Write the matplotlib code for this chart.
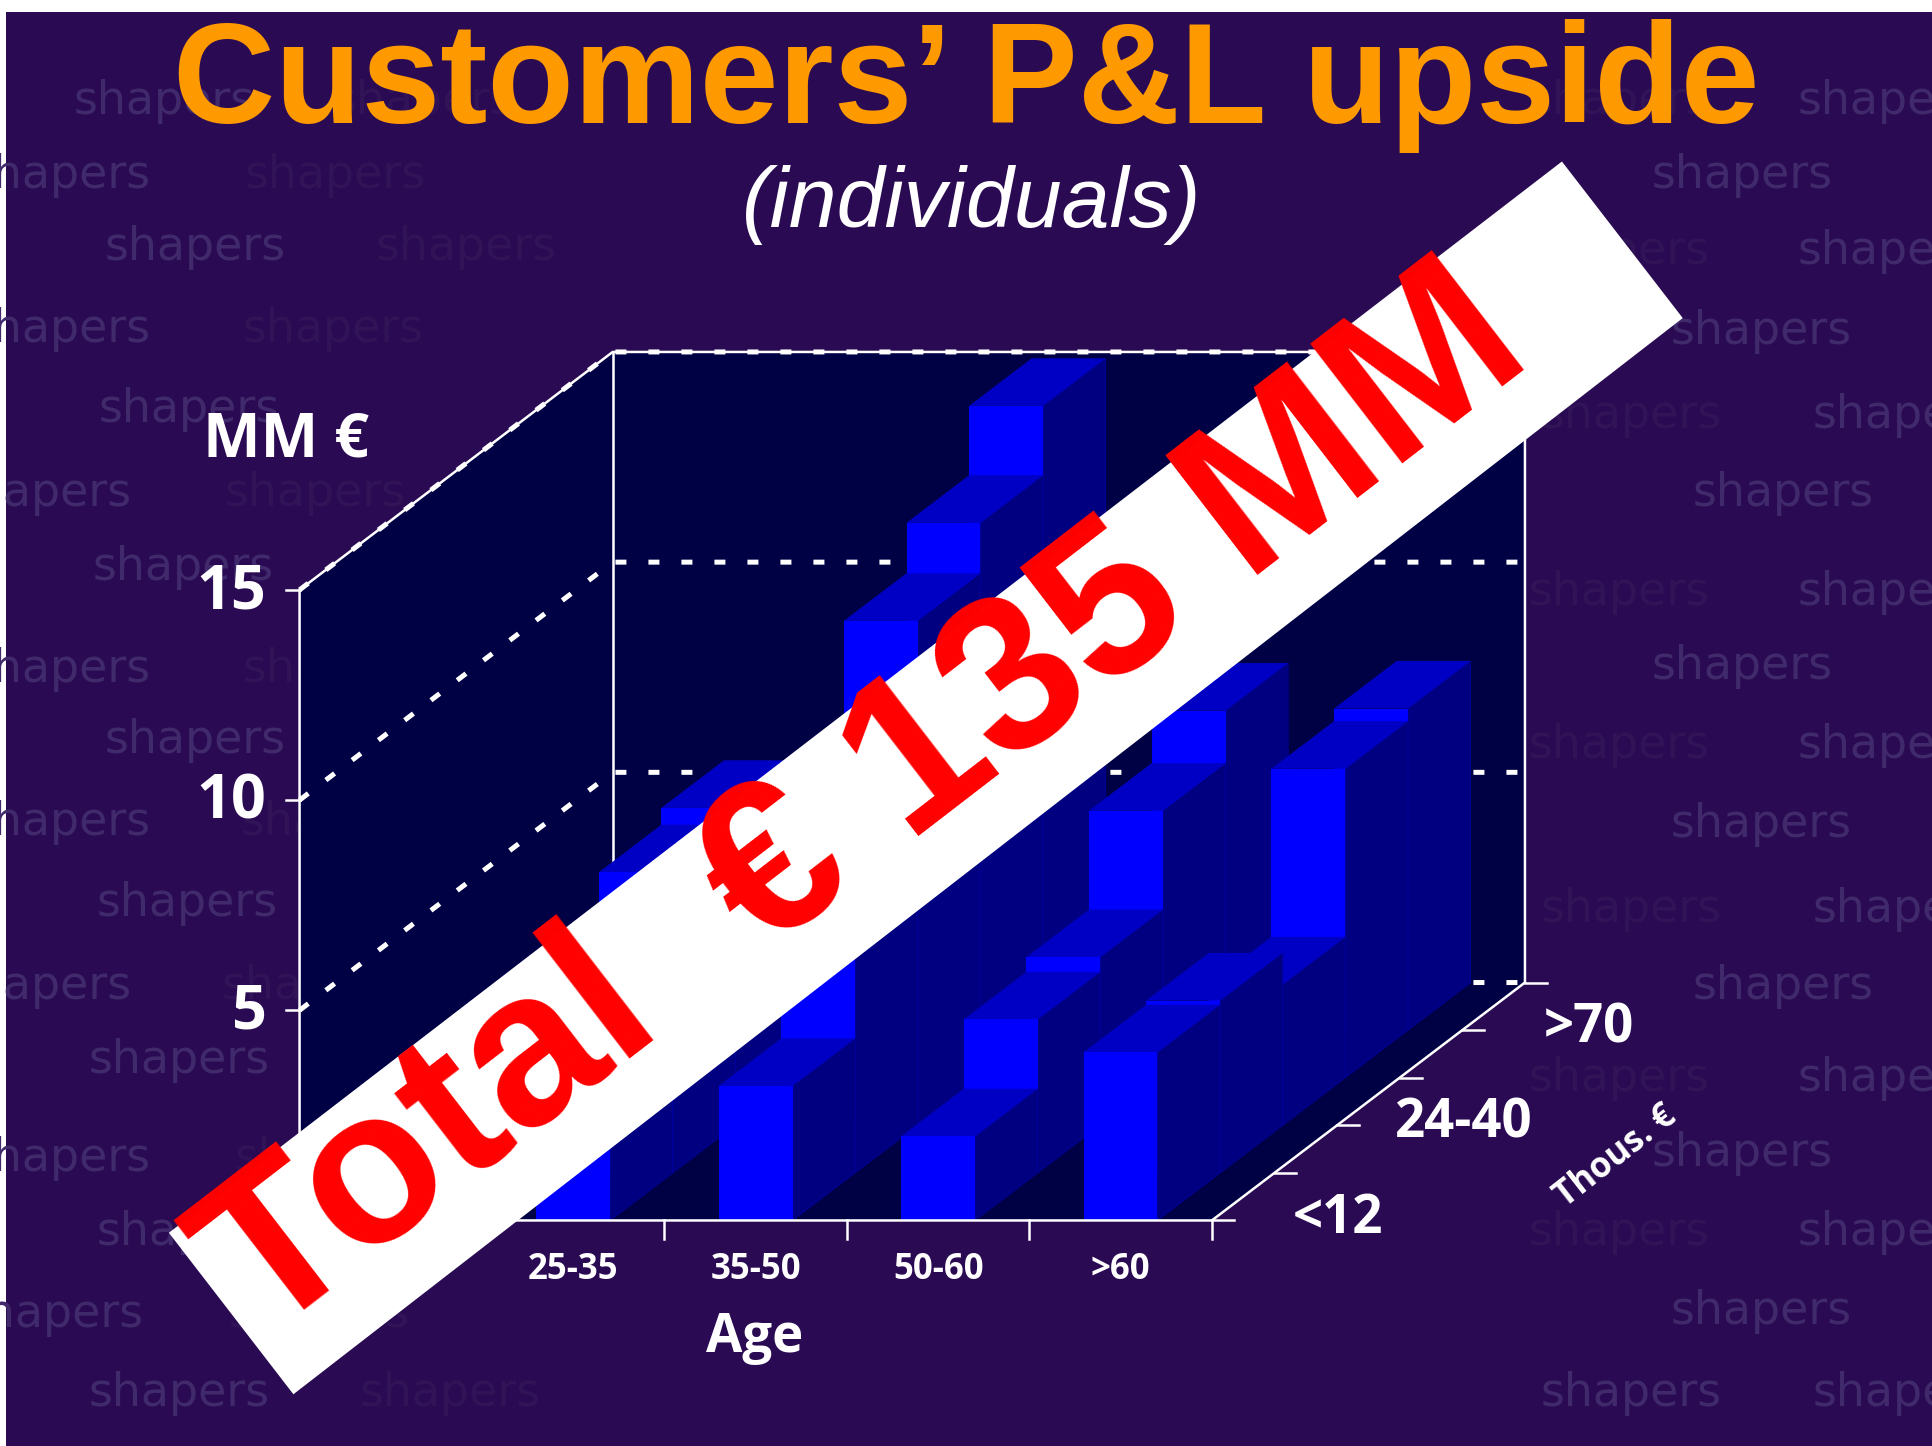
#encoding=utf-8
import matplotlib
matplotlib.use("Agg")
import matplotlib.pyplot as plt
from matplotlib.patches import Polygon

# MM euro per cell, rows go from the front (<12) to the back (>70)
# first column and some cells sit behind the banner, those are estimates
h_col0 = [0.8, 1.0, 1.2, 1.3, 1.3]
h_col1 = [6.0, 7.15, 7.55, 4.0, 3.0]
h_col2 = [3.2, 8.5, 12.0, 13.2, 14.85]
h_col3 = [2.0, 3.65, 4.0, 6.35, 7.6]
h_col4 = [4.0, 4.1, 3.35, 7.35, 7.65]
heights = [h_col0, h_col1, h_col2, h_col3, h_col4]

age_labels = ["", "25-35", "35-50", "50-60", ">60"]
income_labels = ["<12", "", "24-40", "", ">70"]
z_ticks = [5, 10, 15]
z_tick_labels = ["5", "10", "15"]

BG = "#2a0a52"
WALL = "#000044"
FRONT = "#0000ff"
TOP = "#0000c4"
SIDE = "#000080"
ORANGE = "#ff9900"

S = 1933 / 1568.0
X0, Y0 = 243 * S, 990 * S
CW, DX, DY, HU = 148 * S, 50.8 * S, 38.6 * S, 34.1 * S
BAR_L, BAR_W = 0.297, 0.405
NC, NR, ZMAX = 5, 5, 15

FT = ["Liberation Sans", "DejaVu Sans"]
FL = ["Open Sans", "DejaVu Sans"]


def pj(c, d, h=0):
    return (X0 + c * CW + d * DX, Y0 - d * DY - h * HU)


def poly(ax, pts, col, z, ec=None, lw=0.0):
    ax.add_patch(Polygon(pts, closed=True, fc=col, ec=ec or col, lw=lw, zorder=z))


fig = plt.figure(figsize=(19.33, 14.46), dpi=100, facecolor="white")
ax = fig.add_axes([0, 0, 1, 1])
ax.set_xlim(0, 1933)
ax.set_ylim(1446, 0)
ax.axis("off")
ax.add_patch(plt.Rectangle((6, 12), 1927, 1434, fc=BG, ec="none", zorder=0))

# background watermark: left edge, centre y (reference px / S), strong or faint
marks = [(60, 82, 1), (270, 82, 0), (1240, 82, 0), (1458, 82, 1),
         (-25, 142, 1), (198, 142, 0), (1340, 142, 1),
         (85, 201, 1), (305, 201, 0), (1240, 204, 0), (1458, 204, 1),
         (-25, 267, 1), (197, 267, 0), (1355, 269, 1),
         (80, 332, 1), (1250, 337, 0), (1470, 337, 1),
         (-40, 400, 1), (182, 400, 0), (1373, 400, 1),
         (75, 460, 1), (1240, 481, 0), (1458, 481, 1),
         (-25, 543, 1), (197, 543, 0), (1340, 541, 1),
         (85, 601, 1), (1240, 605, 0), (1458, 605, 1),
         (-25, 667, 1), (195, 667, 0), (1355, 669, 1),
         (78, 733, 1), (1250, 738, 0), (1470, 738, 1),
         (-40, 800, 1), (180, 800, 0), (1373, 800, 1),
         (72, 860, 1), (1240, 875, 0), (1458, 875, 1),
         (-25, 940, 1), (190, 940, 0), (1340, 936, 1),
         (78, 1000, 1), (1240, 1000, 0), (1458, 1000, 1),
         (-30, 1066, 1), (185, 1066, 0), (1355, 1064, 1),
         (72, 1130, 1), (292, 1130, 0), (1250, 1130, 1), (1470, 1130, 1)]
for mx, my, strong in marks:
    ax.text(mx * S, my * S, "shapers", color="#402a6c" if strong else "#311457",
            fontsize=33, family=["DejaVu Sans"], ha="left", va="center", zorder=1)

# walls and floor
poly(ax, [pj(0, 0, 0), pj(0, NR, 0), pj(0, NR, ZMAX), pj(0, 0, ZMAX)], WALL, 2)
poly(ax, [pj(0, NR, 0), pj(NC, NR, 0), pj(NC, NR, ZMAX), pj(0, NR, ZMAX)], WALL, 2)
poly(ax, [pj(0, 0, 0), pj(NC, 0, 0), pj(NC, NR, 0), pj(0, NR, 0)], WALL, 2)

# dotted gridlines on the walls
for z in [0] + z_ticks:
    p = [pj(0, 0, z), pj(0, NR, z), pj(NC, NR, z)]
    ax.plot([q[0] for q in p], [q[1] for q in p], color="white", lw=3.6,
            dashes=(2.2, 4.4), dash_capstyle="butt", zorder=3)

# bars, painted from the back row to the front
zz = 4
for d in range(NR - 1, -1, -1):
    for c in range(NC):
        h = heights[c][d]
        l, r = c + BAR_L, c + BAR_L + BAR_W
        poly(ax, [pj(r, d, 0), pj(r, d + 1, 0), pj(r, d + 1, h), pj(r, d, h)],
             SIDE, zz, ec="#00009a", lw=0.6)
        poly(ax, [pj(l, d, h), pj(r, d, h), pj(r, d + 1, h), pj(l, d + 1, h)], TOP, zz)
        poly(ax, [pj(l, d, 0), pj(r, d, 0), pj(r, d, h), pj(l, d, h)], FRONT, zz)
        zz += 0.01

# frame lines
frame = [[pj(0, 0, 0), pj(0, 0, ZMAX), pj(0, NR, ZMAX), pj(NC, NR, ZMAX), pj(NC, NR, 0)],
         [pj(0, 0, 0), pj(NC, 0, 0), pj(NC, NR, 0)]]
for f in frame:
    ax.plot([q[0] for q in f], [q[1] for q in f], color="white", lw=1.8, zorder=6)
ax.plot([pj(0, NR, 0)[0]] * 2, [pj(0, NR, 0)[1], pj(0, NR, ZMAX)[1]],
        color="white", lw=1.8, zorder=3)

# ticks and labels
for z, lab in zip(z_ticks, z_tick_labels):
    x, y = pj(0, 0, z)
    ax.plot([x - 14, x], [y, y], color="white", lw=1.8, zorder=6)
    ax.text(x - 33, y + 3, lab, color="white", fontsize=44, family=FL, weight="bold",
            ha="right", va="center", zorder=7)
for c in range(NC + 1):
    x, y = pj(c, 0)
    ax.plot([x, x], [y, y + 19], color="white", lw=1.8, zorder=6)
for d in range(NR + 1):
    x, y = pj(NC, d)
    ax.plot([x, x + 22], [y, y], color="white", lw=1.8, zorder=6)
for c, lab in enumerate(age_labels):
    x, y = pj(c + 0.5, 0)
    ax.text(x, y + 50, lab, color="white", fontsize=25, family=FL, weight="bold",
            ha="center", va="center", zorder=7)
for d, lab in enumerate(income_labels):
    x, y = pj(NC, d + 0.5)
    ax.text(x + 95, y + 22, lab, color="white", fontsize=38, family=FL, weight="bold",
            ha="left" if False else "center", va="center", zorder=7)

ax.text(612 * S, 1085 * S, "Age", color="white", fontsize=38, family=FL, weight="bold",
        ha="center", va="center", zorder=7)
ax.text(232 * S, 358 * S, "MM €", color="white", fontsize=44, family=FL, weight="bold",
        ha="center", va="center", zorder=7)
ax.text(1311 * S, 938 * S, "Thous. €", color="white", fontsize=25, family=FL, weight="bold",
        rotation=38, rotation_mode="anchor", ha="center", va="center", zorder=7)

# titles
ax.text(784 * S, 70 * S, "Customers’ P&L upside", color=ORANGE, fontsize=102, family=FT,
        weight="bold", ha="center", va="center", zorder=7)
ax.text(788 * S, 166 * S, "(individuals)", color="white", fontsize=62, family=FT,
        style="italic", ha="center", va="center", zorder=7)

# banner on top of the chart
corners = [(137, 1000), (1267, 131), (1365, 258), (238, 1131)]
poly(ax, [(a * S, b * S) for a, b in corners], "white", 8)
ax.text(702 * S, 653 * S, "Total  € 135 MM", color="#ff0000", fontsize=158, family=FT,
        weight="bold", rotation=37.6, rotation_mode="anchor", ha="center", va="center",
        zorder=9)

fig.savefig("out.png", dpi=100)
